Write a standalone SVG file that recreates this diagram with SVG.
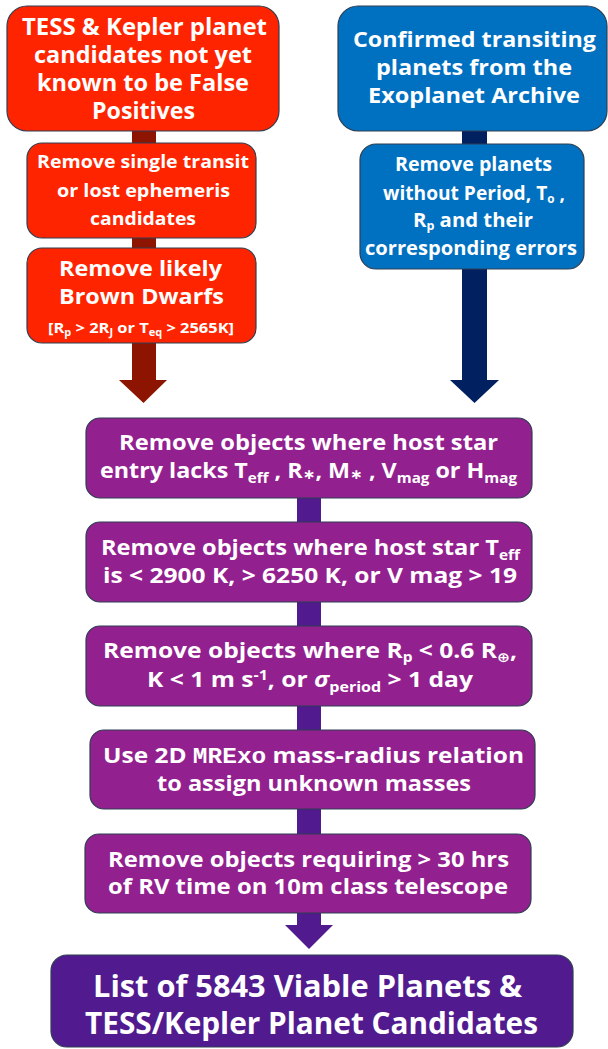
<svg xmlns="http://www.w3.org/2000/svg" width="608" height="1049" viewBox="0 0 608 1049">
<style>
.box{stroke:#2f3e52;stroke-width:1.2}
.red{fill:#ff2400}
.blue{fill:#0070c0}
.pur{fill:#93208f}
.dpur{fill:#511b8f}
.t{font-family:"Open Sans",Lato,"DejaVu Sans",sans-serif;font-weight:bold;fill:#fff;text-anchor:middle}
.mono{font-family:"Liberation Mono","Courier New",monospace;font-weight:bold}
</style>
<rect width="608" height="1049" fill="#fff"/>
<g id="connectors">
  <rect x="132" y="125" width="24" height="256" fill="#8e1402"/>
  <polygon points="119,380 167,380 143.5,403" fill="#8e1402"/>
  <rect x="462" y="125" width="25" height="256" fill="#002060"/>
  <polygon points="450,380 499,380 474.5,403" fill="#002060"/>
  <rect x="297" y="495" width="24" height="431" fill="#511b8f"/>
  <polygon points="285,925 333,925 309,949" fill="#511b8f"/>
</g>
<g id="n1">
  <rect class="box red" x="7" y="6" width="272" height="125" rx="20"/>
  <text class="t" font-size="22.5" x="144.5" y="35" textLength="245" lengthAdjust="spacingAndGlyphs">TESS &amp; Kepler planet</text>
  <text class="t" font-size="22.5" x="143" y="63" textLength="218" lengthAdjust="spacingAndGlyphs">candidates not yet</text>
  <text class="t" font-size="22.5" x="143" y="91" textLength="212" lengthAdjust="spacingAndGlyphs">known to be False</text>
  <text class="t" font-size="22.5" x="143.5" y="119" textLength="103" lengthAdjust="spacingAndGlyphs">Positives</text>
</g>
<g id="n2">
  <rect class="box red" x="27" y="143" width="229" height="95" rx="15"/>
  <text class="t" font-size="18.5" x="143" y="168" textLength="212" lengthAdjust="spacingAndGlyphs">Remove single transit</text>
  <text class="t" font-size="18.5" x="143.5" y="197" textLength="173" lengthAdjust="spacingAndGlyphs">or lost ephemeris</text>
  <text class="t" font-size="18.5" x="143" y="225" textLength="106" lengthAdjust="spacingAndGlyphs">candidates</text>
</g>
<g id="n3">
  <rect class="box red" x="27" y="248" width="229" height="95" rx="15"/>
  <text class="t" font-size="21" x="140.5" y="276" textLength="163" lengthAdjust="spacingAndGlyphs">Remove likely</text>
  <text class="t" font-size="21" x="141.5" y="304" textLength="165" lengthAdjust="spacingAndGlyphs">Brown Dwarfs</text>
  <text class="t" font-size="15" x="141" y="333" textLength="186" lengthAdjust="spacingAndGlyphs">[R<tspan font-size="10" dy="3">p</tspan><tspan dy="-3"> &gt; 2R</tspan><tspan font-size="10" dy="3">J</tspan><tspan dy="-3"> or T</tspan><tspan font-size="10" dy="3">eq</tspan><tspan dy="-3"> &gt; 2565K]</tspan></text>
</g>
<g id="n4">
  <rect class="box blue" x="338" y="6" width="269" height="125" rx="20"/>
  <text class="t" font-size="22" x="474.5" y="47" textLength="243" lengthAdjust="spacingAndGlyphs">Confirmed transiting</text>
  <text class="t" font-size="22" x="474" y="75" textLength="196" lengthAdjust="spacingAndGlyphs">planets from the</text>
  <text class="t" font-size="22" x="474" y="103" textLength="212" lengthAdjust="spacingAndGlyphs">Exoplanet Archive</text>
</g>
<g id="n5">
  <rect class="box blue" x="360" y="144" width="224" height="125" rx="16"/>
  <text class="t" font-size="19.5" x="473.5" y="171" textLength="157" lengthAdjust="spacingAndGlyphs">Remove planets</text>
  <text class="t" font-size="19.5" x="474" y="200" textLength="182" lengthAdjust="spacingAndGlyphs">without Period, T<tspan font-size="12" dy="3">o</tspan><tspan dy="-3"> ,</tspan></text>
  <text class="t" font-size="19.5" x="473" y="227" textLength="120" lengthAdjust="spacingAndGlyphs">R<tspan font-size="12" dy="3">p</tspan><tspan dy="-3"> and their</tspan></text>
  <text class="t" font-size="19.5" x="471" y="255" textLength="212" lengthAdjust="spacingAndGlyphs">corresponding errors</text>
</g>
<g id="n6">
  <rect class="box pur" x="86" y="418" width="446" height="80" rx="14"/>
  <text class="t" font-size="21.5" x="308.5" y="450" textLength="379" lengthAdjust="spacingAndGlyphs">Remove objects where host star</text>
  <text class="t" font-size="21.5" x="308.5" y="478" textLength="417" lengthAdjust="spacingAndGlyphs">entry lacks T<tspan font-size="14" dy="5">eff</tspan><tspan dy="-5"> , R</tspan><tspan font-size="14" dy="1">∗</tspan><tspan dy="-1">, M</tspan><tspan font-size="14" dy="1">∗</tspan><tspan dy="-1"> , V</tspan><tspan font-size="14" dy="5">mag</tspan><tspan dy="-5"> or H</tspan><tspan font-size="14" dy="5">mag</tspan></text>
</g>
<g id="n7">
  <rect class="box pur" x="86" y="522" width="446" height="80" rx="14"/>
  <text class="t" font-size="21.5" x="310.5" y="555" textLength="419" lengthAdjust="spacingAndGlyphs">Remove objects where host star T<tspan font-size="14" dy="5">eff</tspan></text>
  <text class="t" font-size="21.5" x="310" y="583" textLength="414" lengthAdjust="spacingAndGlyphs">is &lt; 2900 K, &gt; 6250 K, or V mag &gt; 19</text>
</g>
<g id="n8">
  <rect class="box pur" x="86" y="626" width="446" height="80" rx="14"/>
  <text class="t" font-size="21.5" x="310" y="658" textLength="414" lengthAdjust="spacingAndGlyphs">Remove objects where R<tspan font-size="13.5" dy="4">p</tspan><tspan dy="-4"> &lt; 0.6 R</tspan><tspan font-size="13.5" dy="4">⊕</tspan><tspan dy="-4">,</tspan></text>
  <text class="t" font-size="21.5" x="310" y="687" textLength="326" lengthAdjust="spacingAndGlyphs">K &lt; 1 m s<tspan font-size="14" dy="-7">-1</tspan><tspan dy="7">, or </tspan><tspan font-style="italic">σ</tspan><tspan font-size="14" dy="5">period</tspan><tspan dy="-5"> &gt; 1 day</tspan></text>
</g>
<g id="n9">
  <rect class="box pur" x="90" y="730" width="445" height="79" rx="14"/>
  <text class="t" font-size="21.5" x="313.5" y="763" textLength="421" lengthAdjust="spacingAndGlyphs">Use 2D <tspan class="mono">MRExo</tspan> mass-radius relation</text>
  <text class="t" font-size="21.5" x="314" y="791" textLength="314" lengthAdjust="spacingAndGlyphs">to assign unknown masses</text>
</g>
<g id="n10">
  <rect class="box pur" x="85" y="834" width="446" height="79" rx="14"/>
  <text class="t" font-size="21.5" x="308.5" y="867" textLength="401" lengthAdjust="spacingAndGlyphs">Remove objects requiring &gt; 30 hrs</text>
  <text class="t" font-size="21.5" x="308" y="894" textLength="400" lengthAdjust="spacingAndGlyphs">of RV time on 10m class telescope</text>
</g>
<g id="n11">
  <rect class="box dpur" x="51" y="955" width="522" height="92" rx="16"/>
  <text class="t" font-size="30.5" x="307.5" y="997" textLength="429" lengthAdjust="spacingAndGlyphs">List of 5843 Viable Planets &amp;</text>
  <text class="t" font-size="30.5" x="311.5" y="1034" textLength="453" lengthAdjust="spacingAndGlyphs">TESS/Kepler Planet Candidates</text>
</g>
</svg>
